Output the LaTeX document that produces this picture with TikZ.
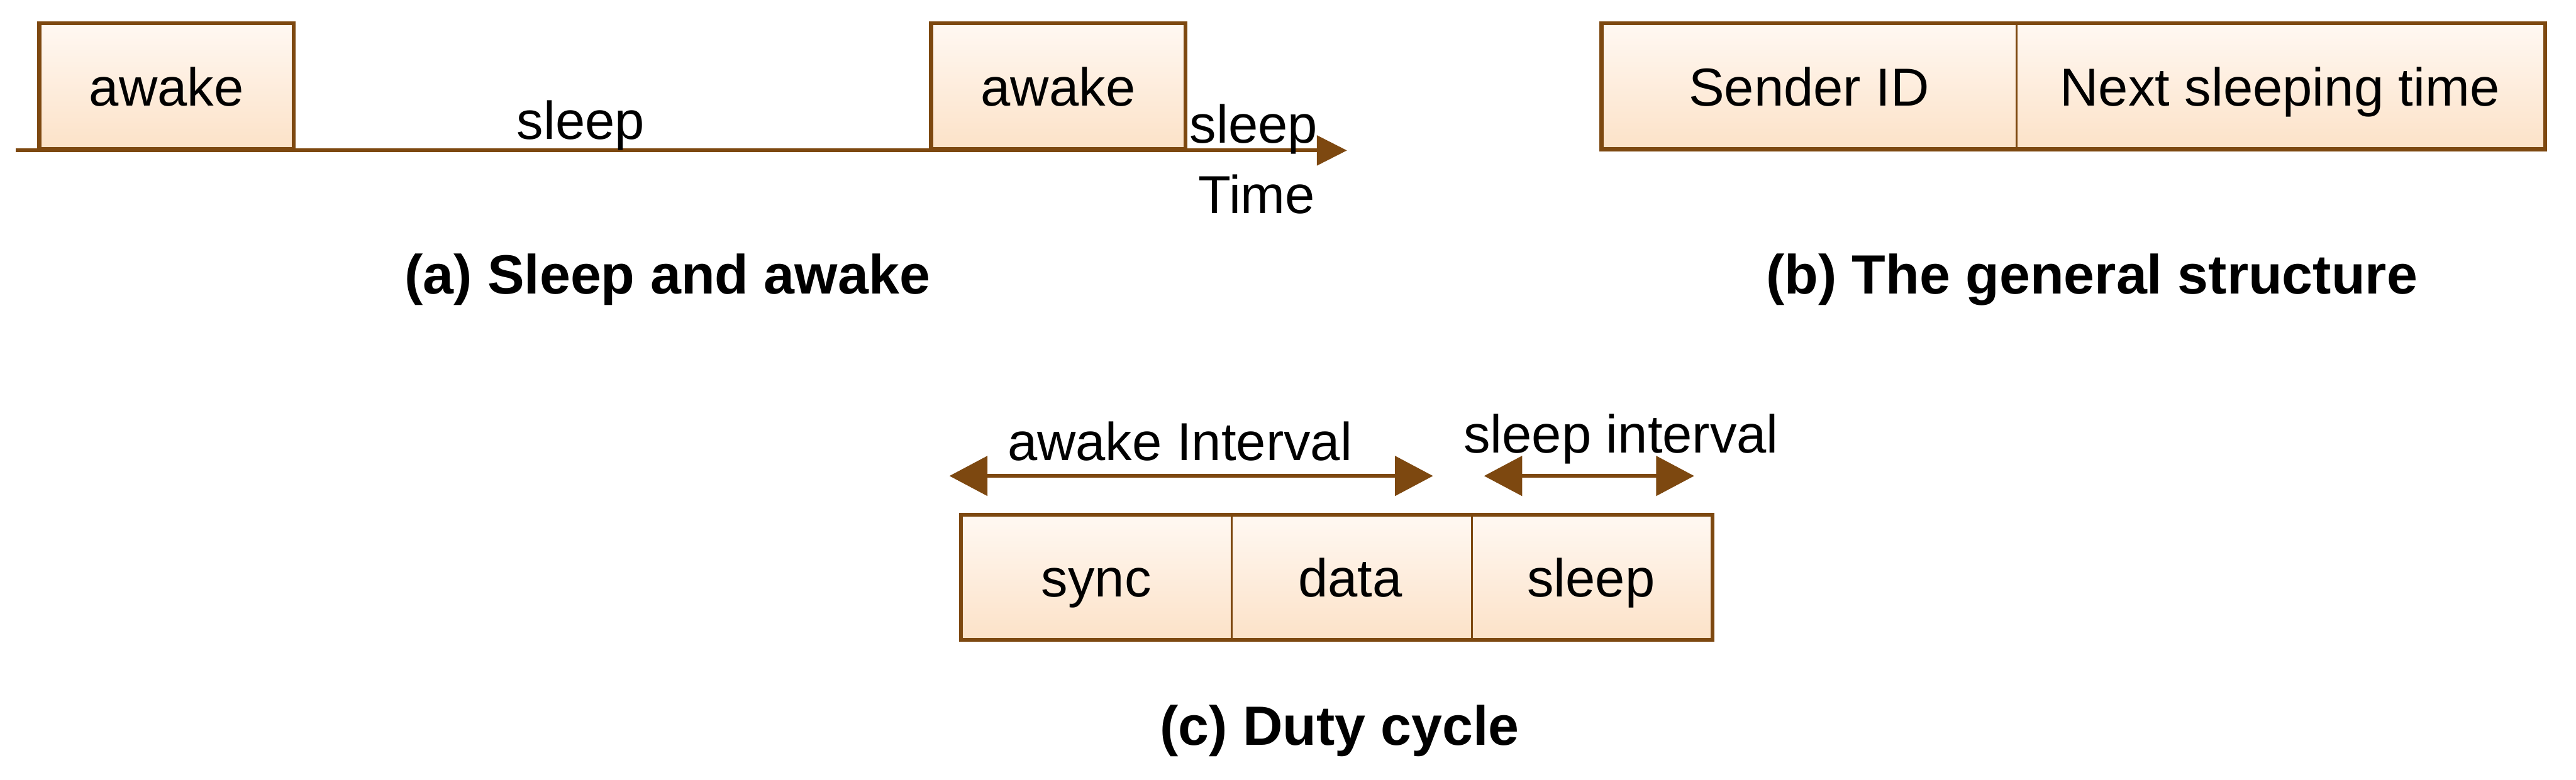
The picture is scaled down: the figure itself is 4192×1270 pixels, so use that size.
\documentclass[tikz,border=0pt]{standalone}
\usepackage{fontspec}
\setmainfont{Liberation Sans}
\usetikzlibrary{arrows.meta}
\definecolor{brn}{RGB}{125,72,16}
\definecolor{celltop}{RGB}{255,248,242}
\definecolor{cellbot}{RGB}{252,226,200}
\tikzset{
  txt/.style={font=\fontsize{8.7pt}{10pt}\selectfont, inner sep=0pt},
  captxt/.style={font=\fontsize{9pt}{11pt}\selectfont\bfseries, inner sep=0pt, anchor=base},
  lbl/.style={txt, anchor=base},
  cellbox/.style={rectangle, inner sep=0pt, top color=celltop, bottom color=cellbot,
    minimum height=20.1pt, text height=0.72em, text depth=0.08em, txt},
  framebox/.style={draw=brn, line width=0.65pt},
  divline/.style={draw=brn, line width=0.3pt},
  timeline/.style={draw=brn, line width=0.6pt, -{Triangle[length=4.9pt,width=4.8pt]}},
  dimline/.style={draw=brn, line width=0.65pt,
    {Triangle[length=6.2pt,width=6.4pt]}-{Triangle[length=6.2pt,width=6.4pt]}}
}
\begin{document}
\begin{tikzpicture}[x=0.1pt,y=-0.1pt]
\useasboundingbox (0,0) rectangle (4192,1270);

% ---------- (a) Sleep and awake ----------
\coordinate (tstart) at (26,245);
\coordinate (tend) at (2192,245);
\node[cellbox, minimum width=41pt] (aw1) at (271,140.5) {awake};
\node[cellbox, minimum width=41pt] (aw2) at (1722,140.5) {awake};
\draw[framebox] (aw1.north west) rectangle (aw1.south east);
\draw[framebox] (aw2.north west) rectangle (aw2.south east);
\draw[timeline] (tstart) -- (tend);
\node[lbl] (slA) at (945,227) {sleep};
\node[lbl] (slB) at (2040,233) {sleep};
\node[lbl] (time) at (2045,347) {Time};
\node[captxt] (capa) at (1086,478) {(a) Sleep and awake};

% ---------- (b) The general structure ----------
\node[cellbox, minimum width=67.2pt] (sid) at (2944,140.5) {Sender ID};
\node[cellbox, minimum width=86pt] (nst) at (3710,140.5) {Next sleeping time};
\draw[framebox] (sid.north west) rectangle (nst.south east);
\draw[divline] (sid.north east) -- (sid.south east);
\node[captxt] (capb) at (3404,478) {(b) The general structure};

% ---------- (c) Duty cycle ----------
\coordinate (ai1) at (1545,775);
\coordinate (ai2) at (2332,775);
\coordinate (si1) at (2415,775);
\coordinate (si2) at (2757,775);
\draw[dimline] (ai1) -- (ai2);
\draw[dimline] (si1) -- (si2);
\node[lbl] (awint) at (1920,750) {awake Interval};
\node[lbl] (slint) at (2638,737) {sleep interval};
\node[cellbox, minimum width=43.6pt, minimum height=20pt] (sync) at (1784,940) {sync};
\node[cellbox, minimum width=39.1pt, minimum height=20pt] (data) at (2197.5,940) {data};
\node[cellbox, minimum width=39.2pt, minimum height=20pt] (slp) at (2589,940) {sleep};
\draw[framebox] (sync.north west) rectangle (slp.south east);
\draw[divline] (sync.north east) -- (sync.south east);
\draw[divline] (data.north east) -- (data.south east);
\node[captxt] (capc) at (2180,1213) {(c) Duty cycle};
\end{tikzpicture}
\end{document}
